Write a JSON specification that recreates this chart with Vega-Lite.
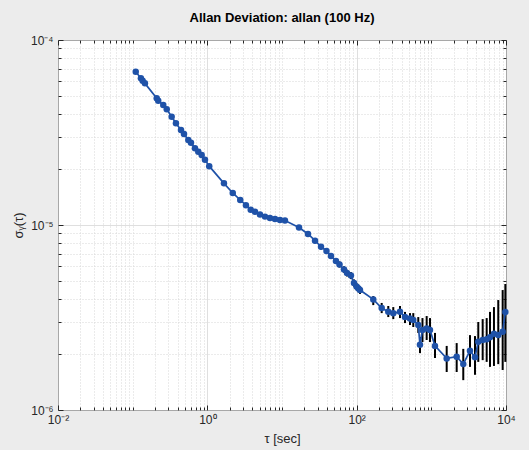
{
  "$schema": "https://vega.github.io/schema/vega-lite/v6.json",
  "autosize": "none",
  "width": 448,
  "height": 370,
  "padding": {"left": 58, "top": 40, "right": 23, "bottom": 40},
  "background": "#ececec",
  "title": {"text": "Allan Deviation: allan (100 Hz)", "fontSize": 13, "fontWeight": "bold", "font": "Liberation Sans", "color": "#000000", "offset": 9, "anchor": "middle"},
  "config": {
    "view": {"fill": "white", "stroke": "#262626", "strokeWidth": 1},
    "axis": {"labelFont": "Liberation Sans", "labelFontSize": 12, "labelColor": "#262626", "titleFont": "Liberation Sans", "titleFontSize": 13, "titleFontWeight": "normal", "titleColor": "#262626", "tickColor": "#262626", "domain": false}
  },
  "data": {"values": [
    {"tau": 0.110, "sigma": 6.74e-5},
    {"tau": 0.129, "sigma": 6.21e-5},
    {"tau": 0.136, "sigma": 6.03e-5},
    {"tau": 0.146, "sigma": 5.83e-5},
    {"tau": 0.210, "sigma": 4.84e-5},
    {"tau": 0.220, "sigma": 4.70e-5},
    {"tau": 0.257, "sigma": 4.45e-5},
    {"tau": 0.286, "sigma": 4.22e-5},
    {"tau": 0.333, "sigma": 3.85e-5},
    {"tau": 0.380, "sigma": 3.55e-5},
    {"tau": 0.444, "sigma": 3.26e-5},
    {"tau": 0.487, "sigma": 3.10e-5},
    {"tau": 0.556, "sigma": 2.88e-5},
    {"tau": 0.604, "sigma": 2.78e-5},
    {"tau": 0.683, "sigma": 2.60e-5},
    {"tau": 0.757, "sigma": 2.49e-5},
    {"tau": 0.840, "sigma": 2.39e-5},
    {"tau": 0.930, "sigma": 2.25e-5},
    {"tau": 1.06, "sigma": 2.08e-5},
    {"tau": 1.67, "sigma": 1.68e-5, "lo": 1.65e-5, "hi": 1.71e-5},
    {"tau": 2.19, "sigma": 1.49e-5, "lo": 1.46e-5, "hi": 1.52e-5},
    {"tau": 2.76, "sigma": 1.365e-5, "lo": 1.34e-5, "hi": 1.39e-5},
    {"tau": 3.29, "sigma": 1.28e-5, "lo": 1.255e-5, "hi": 1.305e-5},
    {"tau": 3.81, "sigma": 1.21e-5, "lo": 1.185e-5, "hi": 1.235e-5},
    {"tau": 4.35, "sigma": 1.18e-5, "lo": 1.155e-5, "hi": 1.205e-5},
    {"tau": 5.07, "sigma": 1.14e-5, "lo": 1.115e-5, "hi": 1.165e-5},
    {"tau": 5.92, "sigma": 1.11e-5, "lo": 1.085e-5, "hi": 1.135e-5},
    {"tau": 6.90, "sigma": 1.09e-5, "lo": 1.065e-5, "hi": 1.115e-5},
    {"tau": 8.06, "sigma": 1.077e-5, "lo": 1.05e-5, "hi": 1.105e-5},
    {"tau": 9.40, "sigma": 1.064e-5, "lo": 1.04e-5, "hi": 1.09e-5},
    {"tau": 10.96, "sigma": 1.057e-5, "lo": 1.03e-5, "hi": 1.085e-5},
    {"tau": 16.9, "sigma": 9.69e-6, "lo": 9.40e-6, "hi": 9.98e-6},
    {"tau": 22.3, "sigma": 8.94e-6, "lo": 8.67e-6, "hi": 9.21e-6},
    {"tau": 27.7, "sigma": 8.23e-6, "lo": 7.98e-6, "hi": 8.48e-6},
    {"tau": 33.3, "sigma": 7.63e-6, "lo": 7.38e-6, "hi": 7.88e-6},
    {"tau": 39.4, "sigma": 7.24e-6, "lo": 7.00e-6, "hi": 7.48e-6},
    {"tau": 45.3, "sigma": 6.80e-6, "lo": 6.56e-6, "hi": 7.04e-6},
    {"tau": 52.8, "sigma": 6.39e-6, "lo": 6.16e-6, "hi": 6.62e-6},
    {"tau": 58.9, "sigma": 6.12e-6, "lo": 5.89e-6, "hi": 6.35e-6},
    {"tau": 67.7, "sigma": 5.75e-6, "lo": 5.52e-6, "hi": 5.98e-6},
    {"tau": 74.2, "sigma": 5.50e-6, "lo": 5.27e-6, "hi": 5.73e-6},
    {"tau": 83.9, "sigma": 5.33e-6, "lo": 5.10e-6, "hi": 5.56e-6},
    {"tau": 92.0, "sigma": 4.86e-6, "lo": 4.64e-6, "hi": 5.08e-6},
    {"tau": 99.4, "sigma": 4.65e-6, "lo": 4.44e-6, "hi": 4.86e-6},
    {"tau": 105.8, "sigma": 4.54e-6, "lo": 4.33e-6, "hi": 4.75e-6},
    {"tau": 110.8, "sigma": 4.45e-6, "lo": 4.24e-6, "hi": 4.66e-6},
    {"tau": 166.9, "sigma": 3.96e-6, "lo": 3.69e-6, "hi": 4.13e-6},
    {"tau": 216.3, "sigma": 3.56e-6, "lo": 3.34e-6, "hi": 3.79e-6},
    {"tau": 265.1, "sigma": 3.40e-6, "lo": 3.18e-6, "hi": 3.65e-6},
    {"tau": 309.3, "sigma": 3.33e-6, "lo": 3.10e-6, "hi": 3.60e-6},
    {"tau": 380.2, "sigma": 3.40e-6, "lo": 3.14e-6, "hi": 3.65e-6},
    {"tau": 443.6, "sigma": 3.18e-6, "lo": 2.95e-6, "hi": 3.39e-6},
    {"tau": 517.6, "sigma": 3.12e-6, "lo": 2.88e-6, "hi": 3.34e-6},
    {"tau": 573.1, "sigma": 3.07e-6, "lo": 2.81e-6, "hi": 3.34e-6},
    {"tau": 668.7, "sigma": 2.88e-6, "lo": 2.61e-6, "hi": 3.18e-6},
    {"tau": 704.6, "sigma": 2.25e-6, "lo": 2.03e-6, "hi": 2.48e-6},
    {"tau": 761, "sigma": 2.71e-6, "lo": 2.33e-6, "hi": 3.14e-6},
    {"tau": 866, "sigma": 2.76e-6, "lo": 2.39e-6, "hi": 3.22e-6},
    {"tau": 959, "sigma": 2.71e-6, "lo": 2.33e-6, "hi": 3.14e-6},
    {"tau": 1119, "sigma": 2.22e-6, "lo": 1.91e-6, "hi": 2.61e-6},
    {"tau": 1606, "sigma": 1.90e-6, "lo": 1.605e-6, "hi": 2.22e-6},
    {"tau": 2185, "sigma": 1.94e-6, "lo": 1.605e-6, "hi": 2.30e-6},
    {"tau": 2678, "sigma": 1.77e-6, "lo": 1.45e-6, "hi": 2.14e-6},
    {"tau": 3293, "sigma": 2.09e-6, "lo": 1.71e-6, "hi": 2.54e-6},
    {"tau": 3842, "sigma": 1.93e-6, "lo": 1.55e-6, "hi": 2.51e-6},
    {"tau": 4254, "sigma": 2.34e-6, "lo": 1.82e-6, "hi": 2.99e-6},
    {"tau": 4871, "sigma": 2.39e-6, "lo": 1.86e-6, "hi": 3.10e-6},
    {"tau": 5511, "sigma": 2.41e-6, "lo": 1.82e-6, "hi": 3.14e-6},
    {"tau": 6101, "sigma": 2.47e-6, "lo": 1.71e-6, "hi": 3.39e-6},
    {"tau": 6900, "sigma": 2.58e-6, "lo": 1.73e-6, "hi": 3.60e-6},
    {"tau": 7879, "sigma": 2.54e-6, "lo": 1.77e-6, "hi": 3.93e-6},
    {"tau": 9024, "sigma": 2.65e-6, "lo": 1.645e-6, "hi": 4.45e-6},
    {"tau": 9800, "sigma": 3.39e-6, "lo": 1.82e-6, "hi": 4.80e-6}
  ]},
  "layer": [
    {
      "mark": {"type": "rule", "color": "#000000", "strokeWidth": 2},
      "encoding": {
        "x": {"field": "tau", "type": "quantitative", "scale": {"type": "log", "domain": [0.01, 10000], "nice": false},
          "axis": {"orient": "bottom", "values": [0.01,0.02,0.03,0.04,0.05,0.06,0.07,0.08,0.09,0.1,0.2,0.3,0.4,0.5,0.6,0.7,0.8,0.9,1,2,3,4,5,6,7,8,9,10,20,30,40,50,60,70,80,90,100,200,300,400,500,600,700,800,900,1000,2000,3000,4000,5000,6000,7000,8000,9000,10000],
            "labelExpr": "datum.value==0.01?'10⁻²':datum.value==1?'10⁰':datum.value==100?'10²':datum.value==10000?'10⁴':''",
            "labelOverlap": false, "labelFlush": false, "labelPadding": 9,
            "grid": true,
            "gridColor": {"condition": {"test": "datum.value==0.01||datum.value==1||datum.value==100||datum.value==10000", "value": "#d4d4d4"}, "value": "#d6d6d6"},
            "gridDash": {"condition": {"test": "datum.value==0.01||datum.value==1||datum.value==100||datum.value==10000", "value": [1, 0]}, "value": [1, 2]},
            "tickSize": {"condition": {"test": "datum.value==0.01||datum.value==1||datum.value==100||datum.value==10000", "value": -5}, "value": -3},
            "title": "τ [sec]", "titleX": 224, "titleY": 28, "titleBaseline": "middle"}},
        "y": {"field": "lo", "type": "quantitative", "scale": {"type": "log", "domain": [1e-6, 1e-4], "nice": false},
          "axis": {"orient": "left", "values": [1e-6,2e-6,3e-6,4e-6,5e-6,6e-6,7e-6,8e-6,9e-6,1e-5,2e-5,3e-5,4e-5,5e-5,6e-5,7e-5,8e-5,9e-5,1e-4],
            "labelExpr": "datum.value==1e-6?'10⁻⁶':datum.value==1e-5?'10⁻⁵':datum.value==1e-4?'10⁻⁴':''",
            "labelOverlap": false, "labelFlush": false, "labelPadding": 10,
            "grid": true,
            "gridColor": {"condition": {"test": "datum.value==1e-6||datum.value==1e-5||datum.value==1e-4", "value": "#d4d4d4"}, "value": "#d6d6d6"},
            "gridDash": {"condition": {"test": "datum.value==1e-6||datum.value==1e-5||datum.value==1e-4", "value": [1, 0]}, "value": [1, 2]},
            "tickSize": {"condition": {"test": "datum.value==1e-6||datum.value==1e-5||datum.value==1e-4", "value": -5}, "value": -3},
            "title": "σᵧ(τ)", "titleX": -40, "titleY": 185, "titleBaseline": "middle", "titleAngle": -90}},
        "y2": {"field": "hi"}
      }
    },
    {
      "mark": {"type": "line", "color": "#1f52a8", "strokeWidth": 1.7},
      "encoding": {
        "x": {"field": "tau", "type": "quantitative", "scale": {"type": "log", "domain": [0.01, 10000], "nice": false},
          "axis": {"orient": "top", "values": [0.01,0.02,0.03,0.04,0.05,0.06,0.07,0.08,0.09,0.1,0.2,0.3,0.4,0.5,0.6,0.7,0.8,0.9,1,2,3,4,5,6,7,8,9,10,20,30,40,50,60,70,80,90,100,200,300,400,500,600,700,800,900,1000,2000,3000,4000,5000,6000,7000,8000,9000,10000],
            "labels": false, "grid": false, "title": null,
            "tickSize": {"condition": {"test": "datum.value==0.01||datum.value==1||datum.value==100||datum.value==10000", "value": -5}, "value": -3}}},
        "y": {"field": "sigma", "type": "quantitative", "scale": {"type": "log", "domain": [1e-6, 1e-4], "nice": false},
          "axis": {"orient": "right", "values": [1e-6,2e-6,3e-6,4e-6,5e-6,6e-6,7e-6,8e-6,9e-6,1e-5,2e-5,3e-5,4e-5,5e-5,6e-5,7e-5,8e-5,9e-5,1e-4],
            "labels": false, "grid": false, "title": null,
            "tickSize": {"condition": {"test": "datum.value==1e-6||datum.value==1e-5||datum.value==1e-4", "value": -5}, "value": -3}}}
      }
    },
    {
      "mark": {"type": "point", "filled": true, "shape": "circle", "size": 42, "color": "#1f52a8", "opacity": 1},
      "encoding": {
        "x": {"field": "tau", "type": "quantitative", "scale": {"type": "log", "domain": [0.01, 10000], "nice": false}, "axis": null},
        "y": {"field": "sigma", "type": "quantitative", "scale": {"type": "log", "domain": [1e-6, 1e-4], "nice": false}, "axis": null}
      }
    }
  ],
  "resolve": {"axis": {"x": "independent", "y": "independent"}}
}
